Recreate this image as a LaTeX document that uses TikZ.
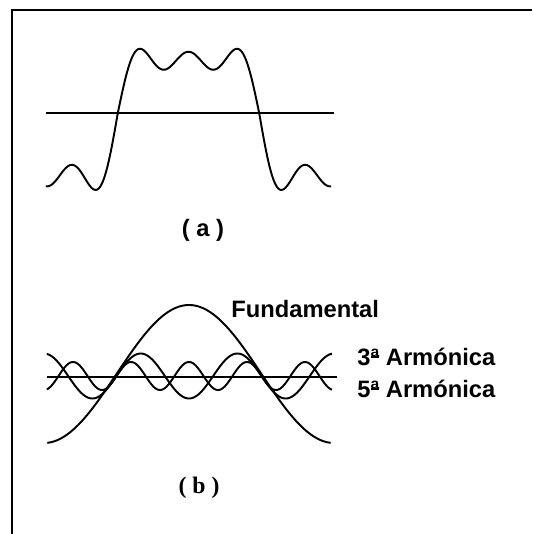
\documentclass[tikz,border=0pt]{standalone}
\usepackage{fontspec}
\setmainfont{Liberation Sans}
\newfontfamily\romfont{Liberation Serif}
\usepackage{tikz}
\usetikzlibrary{positioning}
% feminine ordinal with its bar underneath
\newcommand\ordfem{\makebox[0pt][l]{\hspace{0.03em}\raisebox{0.29em}{\rule{0.32em}{0.07em}}}ª}

\begin{document}
\begin{tikzpicture}[x=0.02cm,y=-0.02cm,
    declare function={sq(\t)=sin(\t r)+sin(3*(\t) r)/3+sin(5*(\t) r)/4;},
    wave/.style={line width=1.1pt,line join=round},
    lbl/.style={font=\fontsize{13.5}{15}\selectfont\bfseries,inner sep=0pt}]
  \useasboundingbox (0,0) rectangle (532,534);
  % frame, only top and left edges show
  \draw[line width=1.2pt] (12,534) -- (12,10) -- (532,10);
  % (a) fundamental + 3rd + 5th
  \draw[wave] (46,113) -- (334,113);
  \draw[wave,smooth,samples=260,domain=-1.6:4.74,variable=\t]
    plot ({188.5+45*(\t-pi/2)},{113-73.4*sq(\t)+6.6*abs(sq(\t))});
  \node[lbl] (capA) at (203,230) {( a )};
  % (b) the three components
  \draw[wave] (47,377) -- (337,377);
  \draw[wave,smooth,samples=120,domain=-3.07:3.07,variable=\t]
    plot ({189+46.15*\t},{374-69*cos(\t r)});
  \draw[wave,smooth,samples=200,domain=-3.08:3.1,variable=\t]
    plot ({189+46.15*\t},{376+22.5*cos(3*(\t) r)});
  \draw[wave,smooth,samples=240,domain=-3.08:3.1,variable=\t]
    plot ({189+46.15*\t},{376-14*cos(5*(\t) r)});
  \node[lbl,anchor=base west] (fund) at (231,317) {Fundamental};
  \node[lbl,anchor=base west] (arm3) at (357,365) {3\ordfem{} Armónica};
  \node[lbl,anchor=base west] (arm5) at (357,397) {5\ordfem{} Armónica};
  \node[lbl,font=\fontsize{13.5}{15}\selectfont\bfseries\romfont] (capB) at (199,488) {( b )};
\end{tikzpicture}
\end{document}
